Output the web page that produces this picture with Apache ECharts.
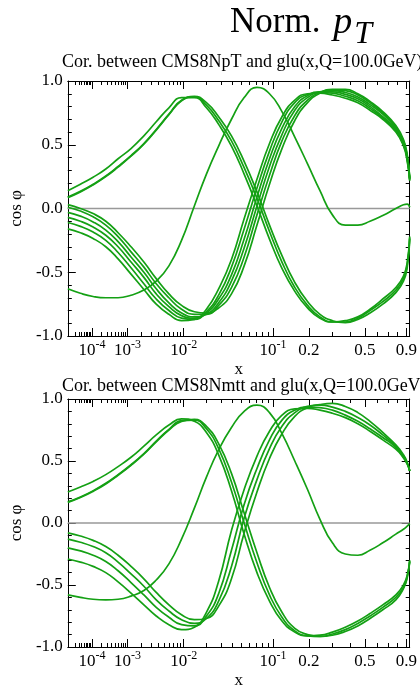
<!DOCTYPE html>
<html><head><meta charset="utf-8">
<script src="https://cdn.jsdelivr.net/npm/echarts@6/dist/echarts.min.js"></script>
<style>html,body{margin:0;padding:0;background:#fff}#c{width:420px;height:690px}</style>
</head><body><div id="c"></div>
<script>
// ---- data (x sample points and correlation values) ----
const xValues = [8e-6, 3.5e-5, 1.1e-4, 2.8e-4, 6e-4, 1.2e-3, 2.2e-3, 3.7e-3, 6e-3, 9.3e-3, 0.014, 0.02, 0.028, 0.039, 0.053, 0.071, 0.093, 0.12, 0.154, 0.195, 0.243, 0.30, 0.37, 0.45, 0.54, 0.65, 0.78, 0.865, 0.91, 0.94];

// panel 1: CMS8NpT
const p1_A1 = [0.14,0.19,0.245,0.31,0.39,0.47,0.57,0.68,0.79,0.87,0.87,0.79,0.66,0.49,0.27,0.02,-0.24,-0.47,-0.65,-0.78,-0.86,-0.89,-0.88,-0.85,-0.79,-0.71,-0.62,-0.53,-0.42,-0.22];
const p1_A2 = [0.09,0.135,0.19,0.255,0.33,0.415,0.51,0.62,0.74,0.85,0.875,0.81,0.69,0.53,0.32,0.08,-0.18,-0.42,-0.62,-0.76,-0.85,-0.89,-0.89,-0.86,-0.80,-0.73,-0.64,-0.55,-0.44,-0.23];
const p1_A3 = [0.085,0.13,0.185,0.25,0.325,0.41,0.505,0.615,0.735,0.845,0.88,0.83,0.72,0.57,0.37,0.13,-0.13,-0.37,-0.58,-0.73,-0.83,-0.88,-0.895,-0.87,-0.82,-0.75,-0.66,-0.57,-0.46,-0.24];
const p1_B1 = [0.03,0.0,-0.04,-0.10,-0.19,-0.30,-0.42,-0.55,-0.67,-0.76,-0.81,-0.82,-0.78,-0.67,-0.45,-0.13,0.19,0.47,0.69,0.83,0.905,0.935,0.935,0.90,0.84,0.76,0.65,0.54,0.42,0.24];
const p1_B2 = [0.01,-0.02,-0.065,-0.13,-0.22,-0.34,-0.46,-0.59,-0.70,-0.79,-0.83,-0.83,-0.76,-0.62,-0.38,-0.05,0.26,0.53,0.73,0.85,0.91,0.93,0.925,0.89,0.83,0.75,0.64,0.53,0.41,0.24];
const p1_B3 = [-0.03,-0.06,-0.105,-0.17,-0.26,-0.38,-0.50,-0.63,-0.74,-0.82,-0.85,-0.83,-0.74,-0.57,-0.31,0.02,0.33,0.58,0.77,0.87,0.915,0.925,0.91,0.875,0.815,0.74,0.63,0.52,0.40,0.23];
const p1_B4 = [-0.07,-0.10,-0.145,-0.21,-0.30,-0.42,-0.54,-0.67,-0.77,-0.84,-0.86,-0.82,-0.71,-0.52,-0.24,0.09,0.39,0.63,0.80,0.885,0.915,0.915,0.895,0.86,0.80,0.72,0.62,0.51,0.39,0.23];
const p1_B5 = [-0.11,-0.14,-0.185,-0.25,-0.345,-0.465,-0.59,-0.71,-0.80,-0.86,-0.87,-0.81,-0.68,-0.46,-0.16,0.16,0.45,0.68,0.83,0.895,0.91,0.905,0.88,0.845,0.785,0.71,0.61,0.50,0.38,0.22];
const p1_B6 = [-0.16,-0.19,-0.235,-0.30,-0.395,-0.515,-0.635,-0.75,-0.83,-0.88,-0.87,-0.79,-0.63,-0.40,-0.08,0.23,0.51,0.72,0.85,0.90,0.905,0.89,0.865,0.83,0.77,0.70,0.60,0.49,0.37,0.22];
const p1_C  = [-0.63,-0.665,-0.69,-0.70,-0.70,-0.68,-0.64,-0.57,-0.45,-0.25,0.02,0.27,0.49,0.70,0.87,0.95,0.90,0.76,0.56,0.35,0.14,-0.05,-0.13,-0.13,-0.10,-0.055,0.0,0.03,0.035,0.01];

// panel 2: CMS8Nmtt
const p2_A1 = [0.25,0.29,0.335,0.39,0.455,0.53,0.62,0.71,0.79,0.84,0.82,0.73,0.55,0.26,-0.09,-0.40,-0.63,-0.79,-0.88,-0.91,-0.905,-0.88,-0.84,-0.79,-0.73,-0.66,-0.58,-0.50,-0.42,-0.30];
const p2_A2 = [0.17,0.21,0.26,0.32,0.39,0.47,0.56,0.66,0.755,0.825,0.83,0.76,0.60,0.33,0.0,-0.32,-0.58,-0.76,-0.87,-0.91,-0.915,-0.895,-0.86,-0.81,-0.75,-0.68,-0.60,-0.52,-0.43,-0.31];
const p2_A3 = [0.165,0.205,0.255,0.315,0.385,0.465,0.555,0.655,0.75,0.82,0.835,0.78,0.64,0.40,0.08,-0.24,-0.52,-0.72,-0.85,-0.90,-0.915,-0.905,-0.875,-0.83,-0.77,-0.70,-0.62,-0.53,-0.44,-0.31];
const p2_B1 = [-0.08,-0.105,-0.14,-0.19,-0.26,-0.35,-0.45,-0.56,-0.66,-0.74,-0.78,-0.77,-0.67,-0.45,-0.08,0.25,0.52,0.72,0.86,0.93,0.955,0.965,0.94,0.89,0.82,0.73,0.63,0.55,0.49,0.42];
const p2_B2 = [-0.13,-0.155,-0.19,-0.24,-0.315,-0.41,-0.51,-0.62,-0.71,-0.78,-0.81,-0.77,-0.63,-0.35,0.04,0.35,0.60,0.78,0.89,0.94,0.95,0.935,0.90,0.85,0.79,0.71,0.62,0.54,0.48,0.42];
const p2_B3 = [-0.20,-0.225,-0.26,-0.31,-0.385,-0.48,-0.58,-0.68,-0.76,-0.82,-0.83,-0.75,-0.57,-0.22,0.15,0.44,0.67,0.83,0.91,0.935,0.93,0.91,0.87,0.82,0.76,0.69,0.61,0.53,0.48,0.42];
const p2_B4 = [-0.29,-0.315,-0.35,-0.40,-0.475,-0.565,-0.66,-0.75,-0.82,-0.86,-0.84,-0.72,-0.47,-0.06,0.27,0.54,0.74,0.87,0.92,0.925,0.91,0.885,0.85,0.80,0.74,0.67,0.595,0.525,0.475,0.42];
const p2_C  = [-0.58,-0.60,-0.615,-0.62,-0.615,-0.59,-0.545,-0.46,-0.33,-0.13,0.12,0.37,0.59,0.77,0.90,0.95,0.89,0.72,0.50,0.27,0.03,-0.16,-0.25,-0.26,-0.22,-0.16,-0.09,-0.05,-0.025,-0.005];

const panel1Curves = [p1_A1, p1_A2, p1_A3, p1_B1, p1_B2, p1_B3, p1_B4, p1_B5, p1_B6, p1_C];
const panel2Curves = [p2_A1, p2_A2, p2_A3, p2_B1, p2_B2, p2_B3, p2_B4, p2_C];

const panelTitles = ['Cor. between CMS8NpT and glu(x,Q=100.0GeV)', 'Cor. between CMS8Nmtt and glu(x,Q=100.0GeV)'];
const xRange = [8e-6, 0.94];
const xMajorTicks = [1e-4, 1e-3, 1e-2, 0.1, 0.2, 0.5, 0.9];
const xMajorLabels = ['10^-4', '10^-3', '10^-2', '10^-1', '0.2', '0.5', '0.9'];
const xMinorTicks = [9e-6, 2e-5,3e-5,4e-5,5e-5,6e-5,7e-5,8e-5,9e-5,
  2e-4,3e-4,4e-4,5e-4,6e-4,7e-4,8e-4,9e-4,
  2e-3,3e-3,4e-3,5e-3,6e-3,7e-3,8e-3,9e-3,
  2e-2,3e-2,4e-2,5e-2,6e-2,7e-2,8e-2,9e-2,
  0.3,0.4,0.6,0.7,0.8];

// ---- x scale: x^0.2 ----
const T = x => Math.pow(x, 0.2);
const FONT = '"Liberation Serif", "DejaVu Serif", serif';
const GREEN = '#14a014';

const grids = [
  {left: 62, top: 81, width: 352.5, height: 255},
  {left: 62, top: 399, width: 352.5, height: 256}
];

function xLabelFormatter(v) {
  let idx = -1;
  xMajorTicks.forEach((t, i) => { if (Math.abs(T(t) - v) < 1e-7) idx = i; });
  if (idx < 0) return '';
  const s = xMajorLabels[idx];
  if (s.indexOf('^') >= 0) {
    const [b, e] = s.split('^');
    return '{b|' + b + '}{s|' + e + '}';
  }
  return '{b|' + s + '}';
}

const xAxes = [], yAxes = [];
grids.forEach((g, gi) => {
  const base = {
    gridIndex: gi, type: 'value', min: T(xRange[0]), max: T(xRange[1]),
    splitLine: {show: false}
  };
  xAxes.push(Object.assign({}, base, {
    position: 'bottom',
    axisLine: {show: true, onZero: false, lineStyle: {color: '#000', width: 1}},
    axisTick: {show: true, inside: true, length: 8, customValues: xMajorTicks.map(T), lineStyle: {color: '#000'}},
    axisLabel: {show: true, customValues: xMajorTicks.map(T), margin: 3, formatter: xLabelFormatter,
      rich: {
        b: {fontFamily: FONT, fontSize: 17, color: '#000', lineHeight: 20, verticalAlign: 'bottom'},
        s: {fontFamily: FONT, fontSize: 12, color: '#000', lineHeight: 12, verticalAlign: 'top'}
      }},
    name: 'x', nameLocation: 'middle', nameGap: 25,
    nameTextStyle: {fontFamily: FONT, fontSize: 17, color: '#000'}
  }));
  xAxes.push(Object.assign({}, base, {
    position: 'bottom',
    axisLine: {show: false, onZero: false},
    axisTick: {show: true, inside: true, length: 4, customValues: xMinorTicks.map(T), lineStyle: {color: '#000'}},
    axisLabel: {show: false}
  }));
  xAxes.push(Object.assign({}, base, {
    position: 'top',
    axisLine: {show: true, onZero: false, lineStyle: {color: '#000', width: 1}},
    axisTick: {show: true, inside: true, length: 8, customValues: xMajorTicks.map(T), lineStyle: {color: '#000'}},
    axisLabel: {show: false}
  }));
  xAxes.push(Object.assign({}, base, {
    position: 'top',
    axisLine: {show: false, onZero: false},
    axisTick: {show: true, inside: true, length: 4, customValues: xMinorTicks.map(T), lineStyle: {color: '#000'}},
    axisLabel: {show: false}
  }));
  const ybase = {
    gridIndex: gi, type: 'value', min: -1, max: 1, interval: 0.5,
    splitLine: {show: false},
    axisLine: {show: true, onZero: false, lineStyle: {color: '#000', width: 1}},
    axisTick: {show: true, inside: true, length: 8, lineStyle: {color: '#000'}},
    minorTick: {show: true, splitNumber: 5, length: 4, lineStyle: {color: '#000'}}
  };
  yAxes.push(Object.assign({}, ybase, {
    position: 'left',
    axisLabel: {show: true, margin: 5, fontFamily: FONT, fontSize: 17, color: '#000',
      formatter: v => v.toFixed(1)},
    name: 'cos \u03c6', nameLocation: 'middle', nameGap: 38, nameRotate: 90,
    nameTextStyle: {fontFamily: FONT, fontSize: 17, color: '#000'}
  }));
  yAxes.push(Object.assign({}, ybase, {
    position: 'right', axisLabel: {show: false}
  }));
});

const series = [];
[panel1Curves, panel2Curves].forEach((curves, gi) => {
  series.push({
    type: 'line', xAxisIndex: gi * 4, yAxisIndex: gi * 2, z: 1,
    data: [[T(xRange[0]), 0], [T(xRange[1]), 0]],
    symbol: 'none', silent: true,
    lineStyle: {color: '#999', width: 1.5}
  });
  curves.forEach(arr => {
    series.push({
      type: 'line', xAxisIndex: gi * 4, yAxisIndex: gi * 2, z: 2,
      data: xValues.map((x, i) => [T(x), arr[i]]),
      symbol: 'none', smooth: 0.5, silent: true,
      lineStyle: {color: GREEN, width: 1.7}
    });
  });
});

const chart = echarts.init(document.getElementById('c'), null, {renderer: 'canvas'});
chart.setOption({
  animation: false,
  backgroundColor: '#fff',
  title: [
    {text: '{n|Norm. }{p|p}{t|T}', left: 230, top: -5, padding: 0,
     textStyle: {fontWeight: 'normal', rich: {
       n: {fontFamily: FONT, fontSize: 35, fontWeight: 'normal', color: '#000', lineHeight: 56, verticalAlign: 'middle'},
       p: {fontFamily: FONT, fontSize: 38, fontWeight: 'normal', fontStyle: 'italic', color: '#000', lineHeight: 56, verticalAlign: 'middle', padding: [0, 2, 0, 4]},
       t: {fontFamily: FONT, fontSize: 32, fontWeight: 'normal', fontStyle: 'italic', color: '#000', lineHeight: 32, verticalAlign: 'bottom'}
     }}},
    {text: panelTitles[0], left: 62, top: 53, padding: 0,
     textStyle: {fontFamily: FONT, fontSize: 18, fontWeight: 'normal', color: '#000'}},
    {text: panelTitles[1], left: 62, top: 377, padding: 0,
     textStyle: {fontFamily: FONT, fontSize: 18, fontWeight: 'normal', color: '#000'}}
  ],
  grid: grids,
  xAxis: xAxes,
  yAxis: yAxes,
  series: series
});
</script>
</body></html>
